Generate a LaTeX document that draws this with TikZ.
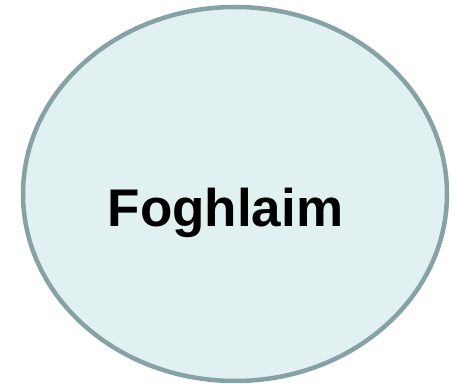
\documentclass[tikz,border=0pt]{standalone}
\usepackage{fontspec}
\setmainfont{Liberation Sans}
\usetikzlibrary{shapes.geometric}
\definecolor{circfill}{HTML}{E1F1F2}
\definecolor{circline}{HTML}{87A2A4}
\begin{document}
\begin{tikzpicture}[x=1pt,y=1pt]
\useasboundingbox (0,0) rectangle (453,385);
\node[draw=circline,line width=4.5pt,fill=circfill,ellipse,minimum width=424pt,minimum height=374pt,inner sep=0pt] (learn) at (235,191) {};
\node[anchor=base,font=\fontsize{53}{60}\selectfont\bfseries,inner sep=0pt] (learnlbl) at (225.5,158) {Foghlaim};
\end{tikzpicture}
\end{document}
